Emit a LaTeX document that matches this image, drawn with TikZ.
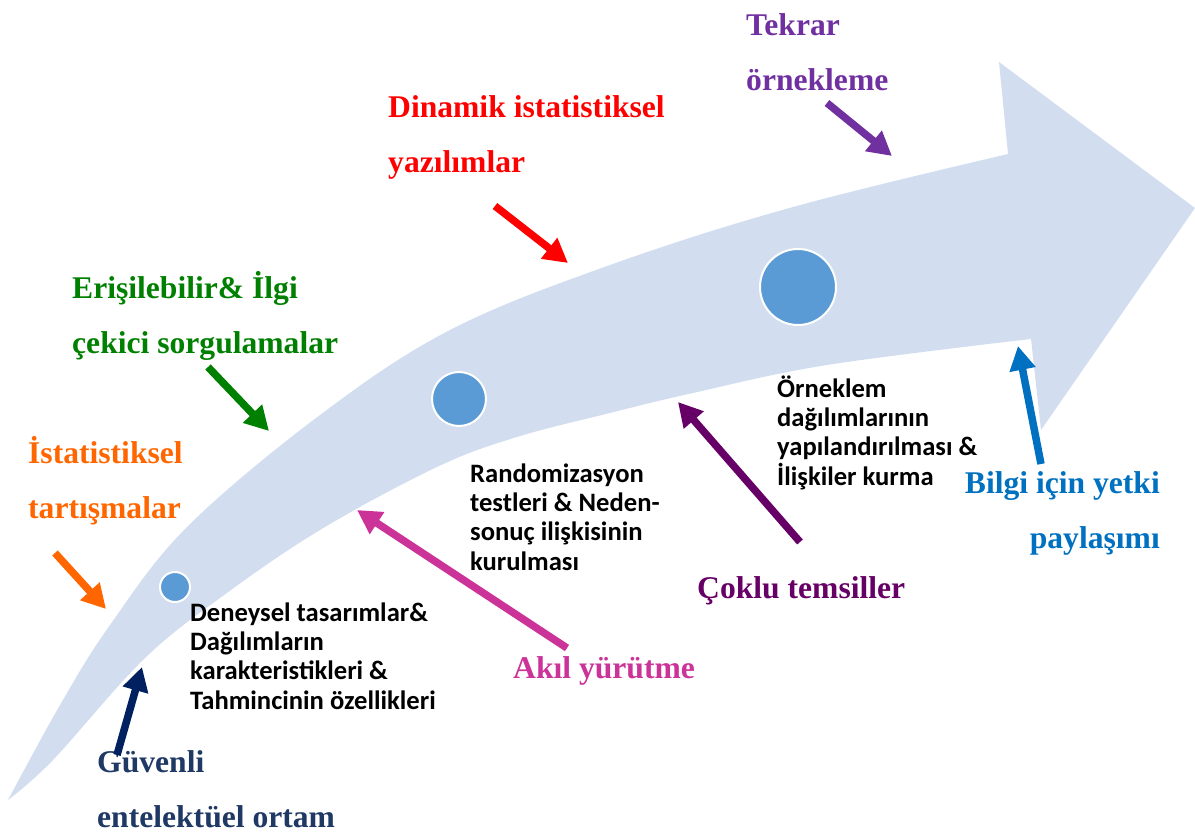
\documentclass[tikz,border=0pt]{standalone}
\usepackage{fontspec}
\setmainfont{Liberation Serif}
\newfontfamily\calib{Carlito}
\usetikzlibrary{arrows.meta}
\definecolor{bandcol}{RGB}{210,222,240}
\definecolor{dotblue}{RGB}{91,155,213}
\definecolor{corange}{RGB}{255,102,0}
\definecolor{cgreen}{RGB}{0,128,0}
\definecolor{cred}{RGB}{255,0,0}
\definecolor{cviolet}{RGB}{112,48,160}
\definecolor{cnavytext}{RGB}{31,56,100}
\definecolor{cnavy}{RGB}{0,32,96}
\definecolor{cmagenta}{RGB}{204,51,153}
\definecolor{cplum}{RGB}{102,0,102}
\definecolor{cblue}{RGB}{0,112,192}
\begin{document}
\begin{tikzpicture}[x=1pt,y=-1pt,
  lbl/.style={font=\fontsize{31.6}{55}\selectfont\bfseries, align=left, anchor=base west, inner sep=0pt},
  desc/.style={font=\calib\fontsize{26.6}{29.3}\selectfont\bfseries, align=left, anchor=base west, inner sep=0pt},
  blockarrow/.style={line width=7.5pt, -{Triangle[length=24pt,width=25pt]}},
  dot/.style={circle, fill=dotblue, draw=white, line width=2pt, inner sep=0pt}]
\useasboundingbox (0,0) rectangle (1195,832);
% big curved arrow
\fill[bandcol] plot[smooth, tension=0.6] coordinates {(8,800) (60,705) (110,625) (187,527) (320,415) (450,330) (610,265) (793,207) (1008,154)}
  -- (999,62) -- (1195,208) -- (1041,430) -- (1031,339)
  -- plot[smooth, tension=0.6] coordinates {(1031,339) (827,365) (693,393) (610,413) (517,437) (437,467) (320,530) (220,598) (143,660) (53,760) (8,800)}
  -- cycle;
% dots
\node[dot, minimum size=30pt] (d1) at (175,587) {};
\node[dot, minimum size=54pt] (d2) at (459,399) {};
\node[dot, minimum size=76pt] (d3) at (798,287) {};
% labels (anchor = baseline of last line)
\node[lbl, text=cviolet] (tekrar) at (746,91) {Tekrar\\örnekleme};
\node[lbl, text=cred] (dinamik) at (388,173) {Dinamik istatistiksel\\yazılımlar};
\node[lbl, text=cgreen] (erisim) at (72,353) {Erişilebilir\& İlgi\\çekici sorgulamalar};
\node[lbl, text=corange] (tartisma) at (28,518) {İstatistiksel\\tartışmalar};
\node[lbl, text=cnavytext] (guvenli) at (97,827) {Güvenli\\entelektüel ortam};
\node[lbl, text=cmagenta] (akil) at (513,678) {Akıl yürütme};
\node[lbl, text=cplum] (coklu) at (697,598) {Çoklu temsiller};
\node[lbl, text=cblue, align=right, anchor=base east] (bilgi) at (1160,548) {Bilgi için yetki\\paylaşımı};
% descriptions
\node[desc] (t1) at (190,709) {Deneysel tasarımlar\&\\Dağılımların\\karakteristikleri \&\\Tahmincinin özellikleri};
\node[desc] (t2) at (470,570) {Randomizasyon\\testleri \& Neden-\\sonuç ilişkisinin\\kurulması};
\node[desc] (t3) at (777,485) {Örneklem\\dağılımlarının\\yapılandırılması \&\\İlişkiler kurma};
% arrow coordinates
\coordinate (oA) at (55,553);   \coordinate (oB) at (106,609);
\coordinate (gA) at (208,367);  \coordinate (gB) at (269,431);
\coordinate (rA) at (495,206);  \coordinate (rB) at (568,263);
\coordinate (vA) at (827,103);  \coordinate (vB) at (892,156);
\coordinate (nA) at (117,755);  \coordinate (nB) at (142,667);
\coordinate (mA) at (567,648);  \coordinate (mB) at (357,510);
\coordinate (pA) at (800,542);  \coordinate (pB) at (678,402);
\coordinate (bA) at (1041,464); \coordinate (bB) at (1018,346);
\draw[blockarrow, corange] (oA) -- (oB);
\draw[blockarrow, cgreen] (gA) -- (gB);
\draw[blockarrow, cred] (rA) -- (rB);
\draw[blockarrow, cviolet] (vA) -- (vB);
\draw[blockarrow, cnavy] (nA) -- (nB);
\draw[blockarrow, cmagenta] (mA) -- (mB);
\draw[blockarrow, cplum] (pA) -- (pB);
\draw[blockarrow, cblue] (bA) -- (bB);
\end{tikzpicture}
\end{document}
